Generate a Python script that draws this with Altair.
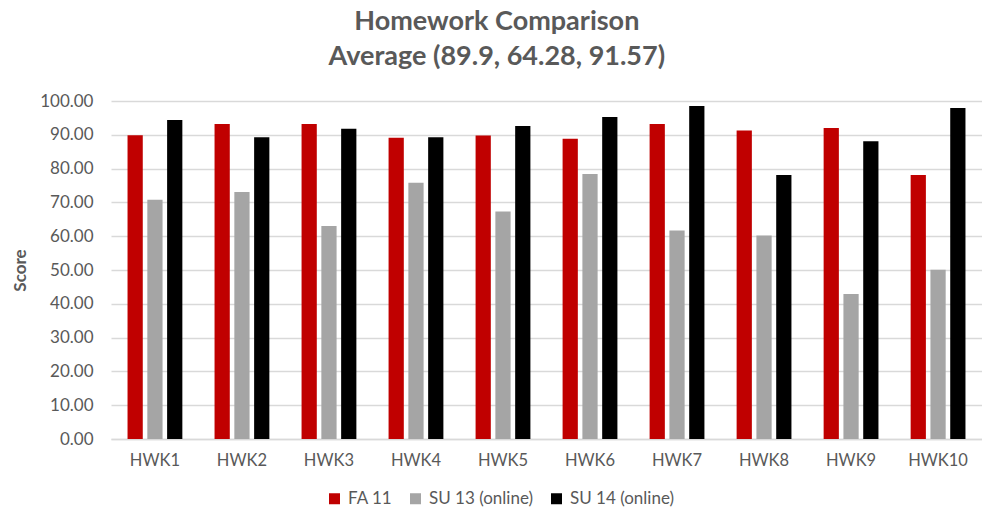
import altair as alt
import pandas as pd

homeworks = ["HWK1", "HWK2", "HWK3", "HWK4", "HWK5", "HWK6", "HWK7", "HWK8", "HWK9", "HWK10"]
series = ["FA 11", "SU 13 (online)", "SU 14 (online)"]
fa11 = [89.9, 93.2, 93.2, 89.1, 89.8, 88.8, 93.2, 91.3, 92.0, 78.1]
su13 = [70.8, 73.1, 63.0, 75.8, 67.3, 78.4, 61.7, 60.2, 42.9, 50.1]
su14 = [94.4, 89.3, 91.8, 89.3, 92.6, 95.3, 98.5, 78.1, 88.1, 97.9]
colors = ["#C00000", "#A5A5A5", "#000000"]
y_ticks = list(range(0, 101, 10))

rows = []
for s, vals in zip(series, [fa11, su13, su14]):
    for h, v in zip(homeworks, vals):
        rows.append({"Homework": h, "Series": s, "Score": v})
df = pd.DataFrame(rows)

FONT = "Lato"
TXT = "#595959"

chart = alt.Chart(df).mark_bar().encode(
    x=alt.X(
        "Homework:N", sort=homeworks,
        scale=alt.Scale(paddingInner=0.37, paddingOuter=0.19),
        axis=alt.Axis(title=None, labelAngle=0, labelFontSize=16.5, labelColor=TXT,
                      labelFont=FONT, labelPadding=13, ticks=False,
                      domainColor="#D9D9D9", domainWidth=1.5, grid=False),
    ),
    xOffset=alt.XOffset("Series:N", sort=series,
                        scale=alt.Scale(paddingInner=0.23, paddingOuter=0)),
    y=alt.Y(
        "Score:Q",
        scale=alt.Scale(domain=[0, 100], nice=False),
        axis=alt.Axis(title="Score", values=y_ticks, format=".2f", labelFontSize=17,
                      labelColor=TXT, labelFont=FONT, labelPadding=18, ticks=False,
                      domain=False, gridColor="#D9D9D9", gridWidth=1.5,
                      titleFont=FONT, titleFontSize=17, titleFontWeight="bold",
                      titleColor=TXT, titlePadding=10),
    ),
    color=alt.Color(
        "Series:N", sort=series,
        scale=alt.Scale(domain=series, range=colors),
        legend=alt.Legend(title=None, orient="none", direction="horizontal",
                          legendX=215, legendY=389, symbolType="square",
                          symbolSize=121, symbolStrokeWidth=0, symbolOpacity=1,
                          labelFontSize=17, labelFont=FONT, labelColor=TXT,
                          columnPadding=14, labelOffset=5),
    ),
).properties(
    width=974,
    height=338,
    padding={"left": 3, "top": 0, "right": 0, "bottom": 40},
    autosize=alt.AutoSizeParams(type="fit-x", contains="padding"),
    title=alt.TitleParams(
        text=["Homework Comparison", "Average (89.9, 64.28, 91.57)"],
        font=FONT, fontSize=27, fontWeight="bold", color=TXT,
        lineHeight=35, anchor="middle", frame="bounds", offset=21,
    ),
).configure_view(stroke=None)

chart.save("out.html", embed_options={"renderer": "svg", "actions": False})
